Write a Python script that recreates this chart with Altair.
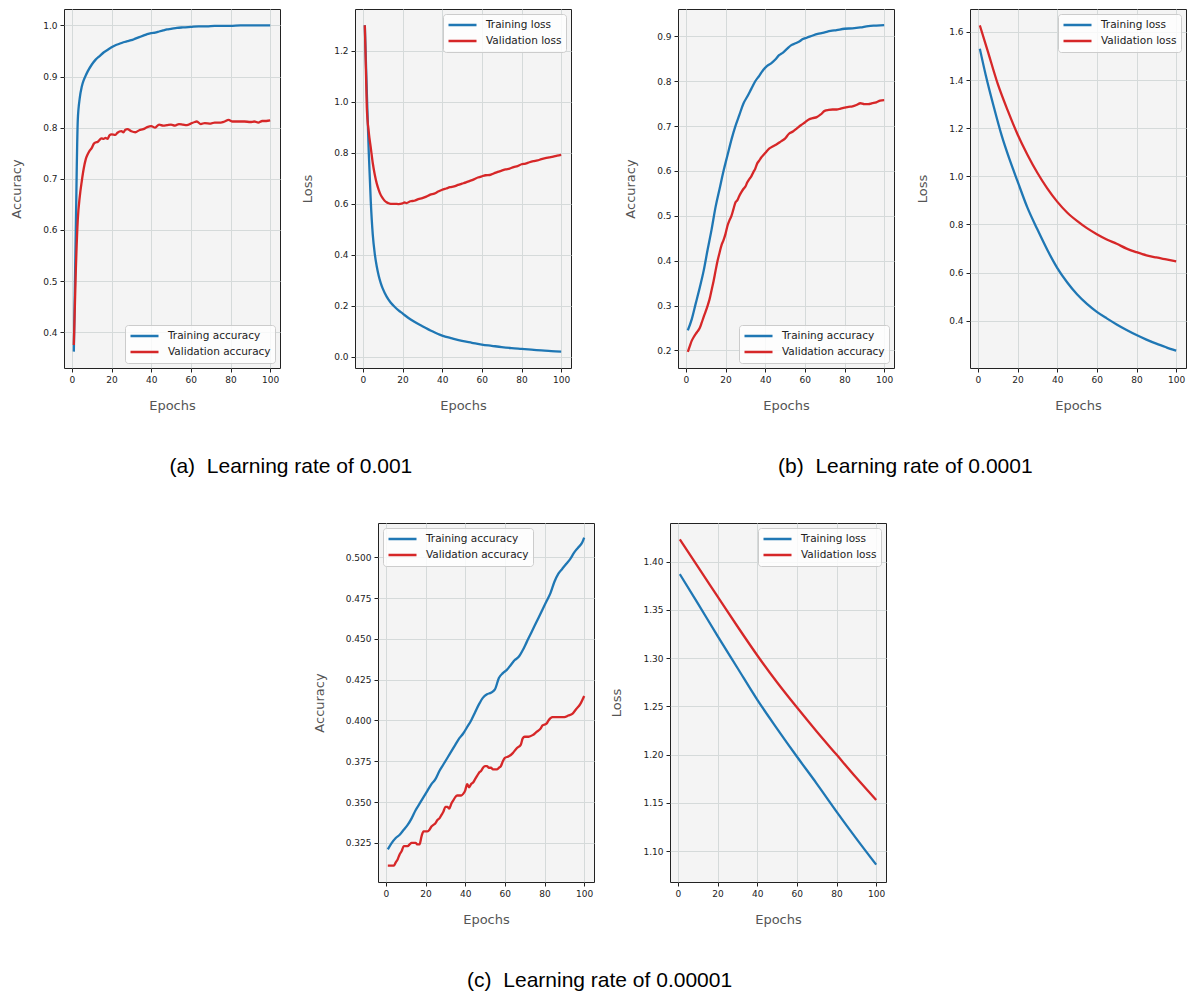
import altair as alt
import pandas as pd

BLUE = "#1f77b4"
RED = "#d62728"

# ---------------- (a) learning rate 0.001 ----------------
a_acc_tr_ep = [1,2,3,4,5,6,7,8,10,12,14,16,18,20,22,24,26,28,30,32,34,36,38,40,42,44,46,48,50,53,56,60,64,68,72,76,80,85,90,95,100]
a_acc_tr = [0.362,0.60,0.815,0.858,0.880,0.893,0.902,0.910,0.923,0.933,0.940,0.947,0.952,0.957,0.961,0.964,0.967,0.969,0.971,0.974,0.977,0.980,0.983,0.985,0.986,0.988,0.990,0.992,0.993,0.995,0.996,0.997,0.998,0.998,0.999,0.999,0.999,1.0,1.0,1.0,1.0]
a_acc_va_ep = [1,2,3,4,5,6,7,8,9,10,11,12,13,14,15,16,17,18,19,20,22,23,25,26,27,28,30,32,34,36,38,40,42,44,46,48,50,52,54,56,58,60,62,63,65,67,70,72,75,77,79,81,84,87,90,92,94,96,98,100]
a_acc_va = [0.375,0.52,0.62,0.665,0.695,0.72,0.738,0.748,0.755,0.760,0.768,0.771,0.772,0.776,0.779,0.778,0.780,0.778,0.785,0.787,0.786,0.790,0.793,0.791,0.796,0.797,0.793,0.791,0.795,0.797,0.801,0.803,0.800,0.806,0.804,0.805,0.806,0.804,0.807,0.806,0.805,0.808,0.811,0.812,0.807,0.809,0.808,0.810,0.810,0.812,0.815,0.812,0.812,0.812,0.811,0.812,0.810,0.813,0.813,0.814]

a_loss_tr_ep = [1,2,3,4,5,6,7,8,9,10,12,14,16,18,20,23,26,30,35,40,45,50,55,60,65,70,75,80,85,90,95,100]
a_loss_tr = [1.30,1.04,0.80,0.61,0.48,0.405,0.355,0.318,0.29,0.268,0.236,0.213,0.196,0.182,0.170,0.152,0.137,0.120,0.100,0.083,0.072,0.062,0.055,0.048,0.043,0.038,0.034,0.031,0.028,0.025,0.022,0.020]
a_loss_va_ep = [1,2,3,4,5,6,7,8,9,10,11,12,13,14,16,18,20,21,22,24,26,28,30,32,34,36,38,40,42,44,46,48,50,52,54,56,58,60,62,64,66,68,70,72,74,76,78,80,82,84,86,88,90,92,94,96,98,100]
a_loss_va = [1.30,0.98,0.88,0.82,0.76,0.715,0.68,0.655,0.635,0.622,0.612,0.606,0.602,0.600,0.600,0.599,0.602,0.605,0.603,0.610,0.612,0.618,0.622,0.628,0.636,0.640,0.648,0.655,0.660,0.665,0.668,0.674,0.679,0.684,0.690,0.696,0.703,0.708,0.712,0.713,0.719,0.725,0.730,0.735,0.738,0.744,0.748,0.755,0.758,0.763,0.767,0.770,0.775,0.779,0.782,0.785,0.789,0.792]

# ---------------- (b) learning rate 0.0001 ----------------
b_acc_tr_ep = [1,3,5,7,9,11,13,15,17,19,21,23,25,27,29,31,33,35,37,39,41,43,45,47,49,51,53,55,57,59,61,64,67,70,73,76,80,84,88,92,96,100]
b_acc_tr = [0.245,0.27,0.305,0.34,0.378,0.425,0.47,0.52,0.56,0.60,0.635,0.67,0.700,0.725,0.750,0.766,0.783,0.80,0.812,0.825,0.834,0.84,0.848,0.858,0.864,0.872,0.88,0.884,0.888,0.894,0.897,0.902,0.906,0.909,0.912,0.914,0.917,0.918,0.920,0.923,0.924,0.925]
b_acc_va_ep = [1,2,3,4,5,6,7,8,9,10,11,12,13,14,15,16,17,18,19,20,21,22,23,24,25,26,27,28,29,30,31,32,33,34,35,36,37,38,39,40,42,44,46,48,50,52,54,56,58,60,62,64,66,68,70,72,74,76,78,80,82,84,86,88,90,92,94,96,98,100]
b_acc_va = [0.197,0.21,0.222,0.23,0.237,0.243,0.25,0.262,0.275,0.287,0.30,0.315,0.335,0.355,0.378,0.40,0.418,0.435,0.446,0.46,0.478,0.49,0.50,0.515,0.53,0.535,0.545,0.553,0.56,0.565,0.575,0.582,0.588,0.597,0.605,0.617,0.623,0.63,0.635,0.64,0.65,0.655,0.66,0.666,0.672,0.683,0.688,0.695,0.702,0.708,0.715,0.718,0.72,0.726,0.734,0.736,0.737,0.737,0.739,0.741,0.743,0.744,0.747,0.751,0.749,0.749,0.751,0.753,0.757,0.758]

b_loss_tr_ep = [1,4,8,12,16,20,25,30,35,40,45,50,55,60,65,70,75,80,85,90,95,100]
b_loss_tr = [1.53,1.42,1.29,1.17,1.07,0.98,0.87,0.78,0.695,0.62,0.56,0.51,0.47,0.437,0.41,0.385,0.362,0.341,0.322,0.305,0.29,0.276]
b_loss_va_ep = [1,5,10,15,20,25,30,35,40,45,50,55,60,65,70,75,80,85,90,95,100]
b_loss_va = [1.627,1.52,1.385,1.275,1.175,1.09,1.015,0.95,0.895,0.85,0.815,0.785,0.76,0.738,0.72,0.70,0.685,0.672,0.663,0.655,0.647]

# ---------------- (c) learning rate 0.00001 ----------------
c_acc_tr_ep = [1,3,5,7,9,11,13,15,17,19,21,23,25,27,29,31,33,35,37,39,41,43,45,47,49,51,53,55,57,59,61,63,65,67,69,71,73,75,77,79,81,83,85,87,89,91,93,95,97,99,100]
c_acc_tr = [0.321,0.325,0.328,0.330,0.333,0.336,0.340,0.345,0.349,0.353,0.357,0.361,0.364,0.369,0.373,0.377,0.381,0.385,0.389,0.392,0.396,0.400,0.405,0.410,0.414,0.416,0.417,0.419,0.426,0.429,0.431,0.434,0.437,0.439,0.443,0.448,0.453,0.458,0.463,0.468,0.473,0.478,0.485,0.490,0.493,0.496,0.499,0.503,0.506,0.509,0.512]
c_acc_va_ep = [1,2,3,4,5,6,7,8,9,10,11,12,13,14,15,16,17,18,19,20,21,22,23,24,25,26,27,28,29,30,31,32,33,34,35,36,37,38,39,40,41,42,43,44,45,46,47,48,49,50,51,52,53,54,55,56,57,58,59,60,62,64,66,68,69,70,72,74,76,78,79,81,82,84,86,88,90,92,94,96,98,100]
c_acc_va = [0.311,0.311,0.311,0.311,0.313,0.315,0.318,0.320,0.323,0.323,0.323,0.324,0.325,0.325,0.325,0.324,0.324,0.329,0.332,0.332,0.332,0.333,0.335,0.336,0.337,0.339,0.340,0.342,0.344,0.347,0.347,0.346,0.349,0.351,0.353,0.354,0.354,0.354,0.355,0.357,0.361,0.359,0.361,0.362,0.364,0.366,0.368,0.369,0.371,0.372,0.372,0.371,0.371,0.370,0.370,0.370,0.371,0.372,0.375,0.377,0.378,0.380,0.383,0.385,0.389,0.390,0.390,0.391,0.393,0.395,0.397,0.398,0.400,0.402,0.402,0.402,0.402,0.403,0.404,0.407,0.410,0.415]

c_loss_ep = [1,10,20,30,40,50,60,70,80,90,100]
c_loss_tr = [1.387,1.357,1.323,1.290,1.257,1.227,1.198,1.170,1.141,1.113,1.086]
c_loss_va = [1.423,1.395,1.364,1.333,1.303,1.275,1.249,1.224,1.200,1.176,1.153]

ACC_NAMES = ["Training accuracy", "Validation accuracy"]
LOSS_NAMES = ["Training loss", "Validation loss"]
X_TICKS = [0, 20, 40, 60, 80, 100]

W, H = 216, 359


def panel(ep_t, v_t, ep_v, v_v, names, ydom, yticks, yfmt, ytitle, lorient):
    df = pd.concat([
        pd.DataFrame({"epoch": ep_t, "value": v_t, "series": names[0]}),
        pd.DataFrame({"epoch": ep_v, "value": v_v, "series": names[1]}),
    ])
    return alt.Chart(df).mark_line(strokeWidth=2.3, clip=True, interpolate="monotone").encode(
        x=alt.X("epoch:Q",
                scale=alt.Scale(domain=[-3.95, 104.95], nice=False, zero=False),
                axis=alt.Axis(values=X_TICKS, format="d", title="Epochs", titlePadding=15)),
        y=alt.Y("value:Q",
                scale=alt.Scale(domain=ydom, nice=False, zero=False),
                axis=alt.Axis(values=yticks, format=yfmt, title=ytitle, titlePadding=19)),
        color=alt.Color("series:N",
                        scale=alt.Scale(domain=names, range=[BLUE, RED]),
                        legend=alt.Legend(orient=lorient, title=None)),
    ).properties(width=W, height=H)


a_acc = panel(a_acc_tr_ep, a_acc_tr, a_acc_va_ep, a_acc_va, ACC_NAMES, [0.330, 1.032],
              [0.4, 0.5, 0.6, 0.7, 0.8, 0.9, 1.0], ".1f", "Accuracy", "bottom-right")
a_loss = panel(a_loss_tr_ep, a_loss_tr, a_loss_va_ep, a_loss_va, LOSS_NAMES, [-0.044, 1.364],
               [0.0, 0.2, 0.4, 0.6, 0.8, 1.0, 1.2], ".1f", "Loss", "top-right")
b_acc = panel(b_acc_tr_ep, b_acc_tr, b_acc_va_ep, b_acc_va, ACC_NAMES, [0.161, 0.961],
              [0.2, 0.3, 0.4, 0.5, 0.6, 0.7, 0.8, 0.9], ".1f", "Accuracy", "bottom-right")
b_loss = panel(b_loss_tr_ep, b_loss_tr, b_loss_va_ep, b_loss_va, LOSS_NAMES, [0.204, 1.695],
               [0.4, 0.6, 0.8, 1.0, 1.2, 1.4, 1.6], ".1f", "Loss", "top-right")
c_acc = panel(c_acc_tr_ep, c_acc_tr, c_acc_va_ep, c_acc_va, ACC_NAMES, [0.301, 0.521],
              [0.325, 0.35, 0.375, 0.4, 0.425, 0.45, 0.475, 0.5], ".3f", "Accuracy", "top-left")
c_loss = panel(c_loss_ep, c_loss_tr, c_loss_ep, c_loss_va, LOSS_NAMES, [1.068, 1.440],
               [1.10, 1.15, 1.20, 1.25, 1.30, 1.35, 1.40], ".2f", "Loss", "top-right")


def caption(text):
    return alt.TitleParams(text=text, orient="bottom", anchor="middle", frame="bounds",
                           baseline="top", offset=43, fontSize=21, font="Liberation Sans",
                           fontWeight="normal", color="#000000")


def indep(c):
    return c.resolve_scale(color="independent").resolve_legend(color="independent")


group_a = indep(alt.hconcat(a_acc, a_loss, spacing=20,
                            title=caption("(a)\u00a0\u00a0Learning rate of 0.001")))
group_b = indep(alt.hconcat(b_acc, b_loss, spacing=21,
                            title=caption("(b)\u00a0\u00a0Learning rate of 0.0001")))
group_c = indep(alt.hconcat(c_acc, c_loss, spacing=15,
                            title=caption("(c)\u00a0\u00a0Learning rate of 0.00001")))

# invisible empty view that pushes the bottom pair to its centred position
spacer = alt.Chart(pd.DataFrame({"epoch": []})).mark_point(opacity=0).properties(
    width=248, height=1, view=alt.ViewBackground(fillOpacity=0, strokeOpacity=0)
)

top = indep(alt.hconcat(group_a, group_b, spacing=52))
bottom = indep(alt.hconcat(spacer, group_c, spacing=0))

chart = indep(alt.vconcat(top, bottom, spacing=45)).properties(
    padding={"left": 10, "top": 8, "right": 0, "bottom": 0},
    background="white",
).configure_view(
    stroke="#222222", strokeWidth=1, fill="#f4f4f4"
).configure_axis(
    domain=False, grid=True, gridColor="#d5dada", gridWidth=1,
    tickColor="#222222", tickSize=4, tickWidth=1,
    labelFont="DejaVu Sans", labelFontSize=9, labelColor="#222222", labelPadding=3,
    titleFont="DejaVu Sans", titleFontSize=13, titleFontWeight="normal", titleColor="#555555",
).configure_legend(
    symbolType="stroke", symbolSize=784, symbolStrokeWidth=2.5, clipHeight=14,
    labelFont="DejaVu Sans", labelFontSize=10.5, labelColor="#222222", labelOffset=8,
    padding=4, rowPadding=2, offset=5, fillColor="rgba(255,255,255,0.8)",
    strokeColor="#cccccc", cornerRadius=3, labelLimit=300,
)

chart.save("out.html", embed_options={"renderer": "svg", "actions": False})
